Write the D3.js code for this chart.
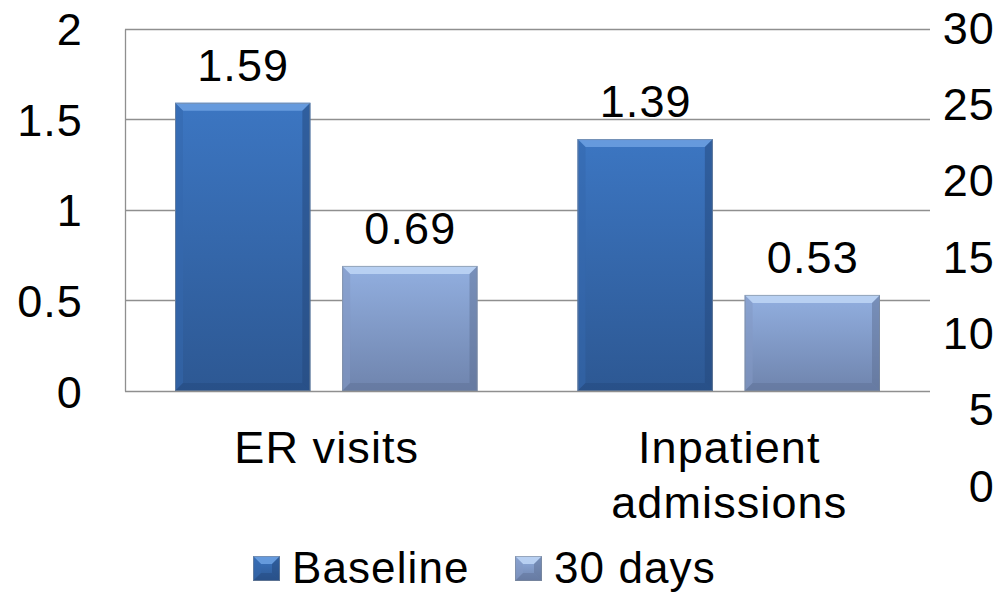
<!DOCTYPE html>
<html>
<head>
<meta charset="utf-8">
<script src="https://cdn.jsdelivr.net/npm/d3@7"></script>
<style>
  html, body { margin: 0; padding: 0; background: #fff; }
  svg { display: block; }
  text { font-family: "Liberation Sans", Arial, sans-serif; fill: #000; letter-spacing: 1.1px; }
</style>
</head>
<body>
<svg id="chart" width="998" height="593"></svg>
<script>
const categories = [["ER visits"], ["Inpatient", "admissions"]];
const seriesNames = ["Baseline", "30 days"];
const baseline = [1.59, 1.39];
const thirtyDays = [0.69, 0.53];
const leftTicks = [0, 0.5, 1, 1.5, 2];
const rightTicks = [0, 5, 10, 15, 20, 25, 30];

const palette = {
  "Baseline": { top: "#3c76c2", bottom: "#2d5893", light: "#6a9fe0", dark: "#23487c", side: "#3468ad" },
  "30 days":  { top: "#92afe0", bottom: "#6f84ad", light: "#bcd4f4", dark: "#5d6f94", side: "#8399c4" }
};

const svg = d3.select("#chart");
const plot = { left: 125, right: 930, top: 28.5, bottom: 391 };
const fontSize = 45;

const data = categories.map((c, i) => ({
  cat: c, key: c.join(" "),
  values: [{ s: "Baseline", v: baseline[i] }, { s: "30 days", v: thirtyDays[i] }]
}));

const x0 = d3.scaleBand().domain(data.map(d => d.key)).range([plot.left, plot.right]).paddingInner(0).paddingOuter(0);
const x1 = d3.scaleBand().domain(seriesNames).range([50, x0.bandwidth() - 50]).paddingInner(0.19).paddingOuter(0);
const y = d3.scaleLinear().domain([0, 2]).range([plot.bottom, plot.top]);
const yR = d3.scaleLinear().domain([0, 30]).range([485, 27]);

const defs = svg.append("defs");
seriesNames.forEach((s, i) => {
  const g = defs.append("linearGradient").attr("id", "grad" + i).attr("x1", 0).attr("y1", 0).attr("x2", 0).attr("y2", 1);
  g.append("stop").attr("offset", "0%").attr("stop-color", palette[s].top);
  g.append("stop").attr("offset", "100%").attr("stop-color", palette[s].bottom);
});

// gridlines
svg.append("g").selectAll("line").data(leftTicks).join("line")
  .attr("x1", plot.left).attr("x2", plot.right)
  .attr("y1", d => Math.round(y(d)) + 0.5).attr("y2", d => Math.round(y(d)) + 0.5)
  .attr("stroke", "#8f8f8f").attr("stroke-width", 1.3);

// left axis line
svg.append("line").attr("x1", plot.left + 0.5).attr("x2", plot.left + 0.5)
  .attr("y1", Math.round(y(2)) + 0.5).attr("y2", Math.round(y(0)) + 0.5)
  .attr("stroke", "#8f8f8f").attr("stroke-width", 1.3);

// left tick labels
const leftAxis = d3.axisLeft(y).tickValues(leftTicks).tickSize(0).tickPadding(0).tickFormat(d3.format("~g"));
const la = svg.append("g").attr("transform", `translate(83,0)`).call(leftAxis);
la.select(".domain").remove();
la.selectAll("text").attr("font-size", fontSize).attr("font-family", '"Liberation Sans", Arial, sans-serif').attr("fill", "#000").attr("dy", "0.36em").attr("x", 0);

// right tick labels
const rightAxis = d3.axisRight(yR).tickValues(rightTicks).tickSize(0).tickPadding(0).tickFormat(d3.format("~g"));
const ra = svg.append("g").attr("transform", `translate(995,0)`).call(rightAxis);
ra.select(".domain").remove();
ra.selectAll("text").attr("font-size", fontSize).attr("font-family", '"Liberation Sans", Arial, sans-serif').attr("fill", "#000").attr("text-anchor", "end").attr("dy", "0.36em").attr("x", 0);

// bars with bevel
function bevelBar(g, x, yTop, w, h, s, gi) {
  const p = palette[s];
  const b = Math.min(8, h / 2);
  g.append("rect").attr("x", x).attr("y", yTop).attr("width", w).attr("height", h).attr("fill", `url(#grad${gi})`);
  g.append("polygon").attr("points", [[x, yTop], [x + w, yTop], [x + w - b, yTop + b], [x + b, yTop + b]].join(" "))
    .attr("fill", p.light).attr("opacity", 0.9);
  g.append("polygon").attr("points", [[x, yTop], [x + b, yTop + b], [x + b, yTop + h - b], [x, yTop + h]].join(" "))
    .attr("fill", p.side).attr("opacity", 0.55);
  g.append("polygon").attr("points", [[x + w, yTop], [x + w, yTop + h], [x + w - b, yTop + h - b], [x + w - b, yTop + b]].join(" "))
    .attr("fill", p.dark).attr("opacity", 0.5);
  g.append("polygon").attr("points", [[x, yTop + h], [x + b, yTop + h - b], [x + w - b, yTop + h - b], [x + w, yTop + h]].join(" "))
    .attr("fill", p.dark).attr("opacity", 0.45);
  g.append("rect").attr("x", x + 0.5).attr("y", yTop + 0.5).attr("width", w - 1).attr("height", h - 1)
    .attr("fill", "none").attr("stroke", "#7f8a99").attr("stroke-opacity", 0.6).attr("stroke-width", 1);
}

const groups = svg.append("g").selectAll("g").data(data).join("g")
  .attr("transform", d => `translate(${x0(d.key)},0)`);

groups.each(function(d) {
  const g = d3.select(this);
  d.values.forEach((v, i) => {
    const bx = x1(v.s), bw = x1.bandwidth();
    const top = y(v.v), h = y(0) - y(v.v);
    bevelBar(g, bx, top, bw, h, v.s, i);
    g.append("text").attr("x", bx + bw / 2 + 0.5).attr("y", top - 22)
      .attr("text-anchor", "middle").attr("font-size", fontSize).text(v.v.toFixed(2));
  });
});

// category labels
svg.append("g").selectAll("text").data(data).join("text")
  .attr("x", d => x0(d.key) + x0.bandwidth() / 2)
  .attr("y", plot.bottom + 72)
  .attr("text-anchor", "middle").attr("font-size", fontSize)
  .each(function(d) {
    d3.select(this).selectAll("tspan").data(d.cat).join("tspan")
      .attr("x", x0(d.key) + x0.bandwidth() / 2 + 0.5)
      .attr("dy", (t, i) => i === 0 ? 0 : 55)
      .text(t => t);
  });

// legend
const legendX = [253, 515];
const leg = svg.append("g").selectAll("g").data(seriesNames).join("g")
  .attr("transform", (d, i) => `translate(${legendX[i]},556)`);
leg.each(function(s, i) {
  const g = d3.select(this);
  bevelBar(g, 0, 0, 27, 25, s, i);
  g.append("text").attr("x", 39).attr("y", 27).attr("font-size", 44).attr("letter-spacing", "1.3px").text(s);
});
</script>
</body>
</html>
